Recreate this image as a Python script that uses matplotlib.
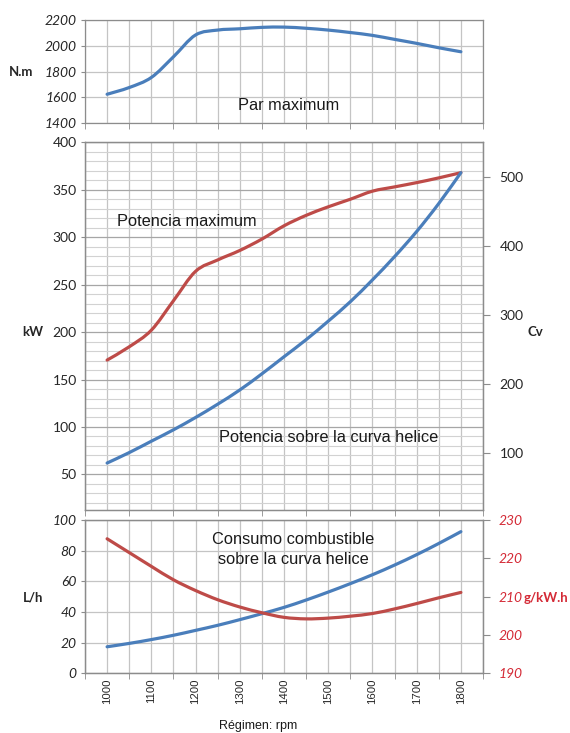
import matplotlib
matplotlib.use("Agg")
import matplotlib.pyplot as plt
from matplotlib.path import Path
from matplotlib.patches import PathPatch
import numpy as np

# rpm values, read every 50 rpm off the picture
rpm = [1000, 1050, 1100, 1150, 1200, 1250, 1300, 1350, 1400,
       1450, 1500, 1550, 1600, 1650, 1700, 1750, 1800]

# Par maximum (N.m)
par_max = [1625, 1677, 1755, 1915, 2084, 2122, 2132, 2143, 2145,
           2136, 2122, 2103, 2081, 2050, 2019, 1985, 1954]

# Potencia maximum / sobre la curva helice (kW)
pot_max = [170.5, 184.5, 202, 233, 264, 276, 286, 298, 312,
           323, 332, 340, 348.5, 353, 357.5, 362.5, 368]
pot_helice = [62, 73, 85, 97, 110, 124, 139, 156, 174,
              192, 211.5, 232, 255, 279.5, 306, 335.5, 368]

# Consumo (L/h) and consumo especifico (g/kW.h)
consumo_lh = [17.3, 19.5, 22.0, 24.8, 28.0, 31.3, 35.0, 38.9, 43.0,
              47.8, 53.0, 58.5, 64.3, 70.6, 77.4, 84.7, 92.4]
consumo_gkwh = [225.1, 221.5, 217.9, 214.4, 211.6, 209.2, 207.3, 205.8, 204.6,
                204.2, 204.4, 204.9, 205.6, 206.8, 208.2, 209.7, 211.1]

rpm_labels = [1000, 1100, 1200, 1300, 1400, 1500, 1600, 1700, 1800]

BLUE = "#4A7EBB"
RED = "#BE4B48"
LABEL_RED = "#D42A36"
GRID = "#C4C4C4"
SPINE = "#8C8C8C"
TXT = "#262626"

W, H = 570, 733
fig = plt.figure(figsize=(W / 100, H / 100), dpi=100)

def px_axes(top, bottom):
    #convert pixel positions to figure fractions
    left, right = 85, 483
    return [left / W, 1 - bottom / H, (right - left) / W, (bottom - top) / H]

def smooth_line(ax, xs, ys, color):
    """
    Draws a smoothed line through the points (like the Excel smoothed line)
    using cubic bezier segments, the points themselves are not changed
    """
    pts = np.column_stack([xs, ys]).astype(float)
    padded = np.vstack([pts[0], pts, pts[-1]])
    verts = [pts[0]]
    codes = [Path.MOVETO]
    for i in range(len(pts) - 1):
        p0, p1, p2, p3 = padded[i], padded[i + 1], padded[i + 2], padded[i + 3]
        verts += [p1 + (p2 - p0) / 6, p2 - (p3 - p1) / 6, p2]
        codes += [Path.CURVE4] * 3
    patch = PathPatch(Path(verts, codes), facecolor="none", edgecolor=color,
                      lw=2.3, capstyle="round", joinstyle="round")
    ax.add_patch(patch)

def style_x(ax, labels=False):
    ax.set_xlim(950, 1850)
    ax.set_xticks(rpm_labels)
    ax.set_xticks(np.arange(950, 1851, 100), minor=True)
    ax.tick_params(axis="x", which="major", length=0)
    ax.tick_params(axis="x", which="minor", length=4, color=SPINE, direction="out")
    if labels:
        ax.set_xticklabels([str(v) for v in rpm_labels], rotation=90,
                           family="Liberation Sans", fontsize=8.2, color=TXT)
    else:
        ax.set_xticklabels([])
    ax.grid(True, axis="x", which="both", color=GRID, linewidth=0.9)
    for s in ax.spines.values():
        s.set_color(SPINE)
        s.set_linewidth(0.9)
    ax.set_axisbelow(True)

def px_text(x, y, s, **kw):
    fig.text(x / W, 1 - y / H, s, **kw)

#-----Top panel: Par maximum-----#
ax1 = fig.add_axes(px_axes(20, 123.3))
smooth_line(ax1, rpm, par_max, BLUE)
ax1.set_ylim(1400, 2200)
ax1.set_yticks(np.arange(1400, 2201, 200))
ax1.tick_params(axis="y", length=3, color=SPINE, pad=3)
for t in ax1.get_yticklabels():
    t.set_family("Lato"); t.set_style("italic"); t.set_fontsize(10); t.set_color(TXT)
ax1.grid(True, axis="y", color=GRID, linewidth=0.9)
style_x(ax1)

#-----Middle panel: potencia-----#
ax2 = fig.add_axes(px_axes(142.3, 510))
smooth_line(ax2, rpm, pot_max, RED)
smooth_line(ax2, rpm, pot_helice, BLUE)
ax2.set_ylim(12.5, 400)
ax2.set_yticks(np.arange(50, 401, 50))
ax2.set_yticks(np.arange(20, 401, 10), minor=True)
ax2.tick_params(axis="y", which="major", length=3, color=SPINE, pad=3)
ax2.tick_params(axis="y", which="minor", length=0)
for t in ax2.get_yticklabels():
    t.set_family("Lato"); t.set_fontsize(10); t.set_color(TXT)
ax2.grid(True, axis="y", which="major", color="#A6A6A6", linewidth=0.9)
ax2.grid(True, axis="y", which="minor", color="#D2D2D2", linewidth=0.8)
style_x(ax2)

ax2r = ax2.twinx()
ax2r.set_ylim(12.5 * 1.375, 400 * 1.375)
ax2r.set_yticks([100, 200, 300, 400, 500])
ax2r.tick_params(axis="y", length=5, color=SPINE, pad=7)
for t in ax2r.get_yticklabels():
    t.set_family("Lato"); t.set_fontsize(10); t.set_color(TXT)
for s in ax2r.spines.values():
    s.set_color(SPINE)
    s.set_linewidth(0.9)

#-----Bottom panel: consumo-----#
ax3 = fig.add_axes(px_axes(520, 673.3))
smooth_line(ax3, rpm, consumo_lh, BLUE)
ax3.set_ylim(0, 100)
ax3.set_yticks(np.arange(0, 101, 20))
ax3.tick_params(axis="y", length=3, color=SPINE, pad=3)
for t in ax3.get_yticklabels():
    t.set_family("Lato"); t.set_style("italic"); t.set_fontsize(10); t.set_color(TXT)
ax3.grid(True, axis="y", color=GRID, linewidth=0.9)
style_x(ax3, labels=True)

ax3r = ax3.twinx()
smooth_line(ax3r, rpm, consumo_gkwh, RED)
ax3r.set_ylim(190, 230)
ax3r.set_yticks(np.arange(190, 231, 10))
ax3r.tick_params(axis="y", length=5, color=SPINE, pad=6)
for t in ax3r.get_yticklabels():
    t.set_family("Lato"); t.set_style("italic"); t.set_fontsize(10); t.set_color(LABEL_RED)
for s in ax3r.spines.values():
    s.set_color(SPINE)
    s.set_linewidth(0.9)

#-----Texts-----#
note = dict(family="Liberation Sans", fontsize=11.8, color="#1a1a1a", va="center")
px_text(289, 106, "Par maximum", ha="center", **note)
px_text(117, 221, "Potencia maximum", ha="left", **note)
px_text(219, 437, "Potencia sobre la curva helice", ha="left", **note)
px_text(293, 540, "Consumo combustible", ha="center", **note)
px_text(293, 559, "sobre la curva helice", ha="center", **note)
px_text(258, 726, "Régimen: rpm", ha="center", family="Liberation Sans",
        fontsize=9, color="#1a1a1a", va="center")

unit = dict(family="Lato", fontsize=9.5, fontweight="bold", va="center")
px_text(21, 72, "N.m", ha="center", color=TXT, **unit)
px_text(33, 332, "kW", ha="center", color=TXT, **unit)
px_text(535, 332, "Cv", ha="center", color=TXT, **unit)
px_text(33, 598, "L/h", ha="center", color=TXT, **unit)
px_text(524, 598, "g/kW.h", ha="left", color=LABEL_RED, **unit)

fig.savefig("out.png", dpi=100, facecolor="white")
